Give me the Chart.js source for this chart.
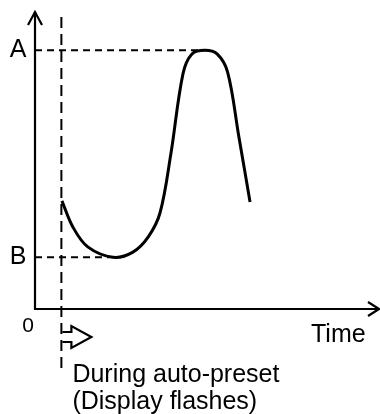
<!DOCTYPE html>
<html>
<head>
<meta charset="utf-8">
<script src="https://cdn.jsdelivr.net/npm/chart.js@4/dist/chart.umd.min.js"></script>
<style>
  html, body { margin: 0; padding: 0; background: #fff; }
  canvas { display: block; }
</style>
</head>
<body>
<canvas id="presetChart" width="380" height="414"></canvas>
<script>
// time axis (arbitrary units), auto-preset starts at t = 1
var curveTime  = [1.02, 1.44, 2.00, 2.96, 3.71, 4.30, 4.74, 5.15, 5.61, 5.95, 6.44, 6.90, 7.30, 7.72, 8.15];
var curveLevel = [2.09, 1.58, 1.20, 1.00, 1.10, 1.40, 1.86, 3.00, 4.55, 4.93, 5.00, 4.93, 4.58, 3.35, 2.07];

var levelA = 5;
var levelB = 1;
var presetStart = 1;
var peakTime = 6.44;
var lowTime = 2.96;

var levelLabels = ['A', 'B'];
var originLabel = '0';
var timeLabel = 'Time';
var noteLines = ['During auto-preset', '(Display flashes)'];

var xMax = 13;
var yMax = 5.74;

function toPoints(xs, ys){
    var pts = [];
    for (var i = 0; i < xs.length; i++) {
        pts.push({ x: xs[i], y: ys[i] });
    }
    return pts;
}

// axes with open arrowheads, letters and the hollow "preset" arrow
var sketchPlugin = {
    id: 'sketch',
    afterDraw: function(chart){
        var ctx = chart.ctx;
        var xs = chart.scales.x, ys = chart.scales.y;
        var x0 = xs.getPixelForValue(0);
        var y0 = ys.getPixelForValue(0);
        var xEnd = xs.getPixelForValue(xMax) + 1;
        var yTop = ys.getPixelForValue(yMax);

        ctx.save();
        ctx.strokeStyle = '#000';
        ctx.lineWidth = 2.2;
        ctx.lineCap = 'butt';
        ctx.lineJoin = 'miter';

        // axes
        ctx.beginPath();
        ctx.moveTo(x0, yTop);
        ctx.lineTo(x0, y0);
        ctx.lineTo(xEnd, y0);
        ctx.stroke();

        // arrowheads
        ctx.beginPath();
        ctx.moveTo(x0 - 7, yTop + 13);
        ctx.lineTo(x0, yTop);
        ctx.lineTo(x0 + 7, yTop + 13);
        ctx.moveTo(xEnd - 11, y0 - 7);
        ctx.lineTo(xEnd, y0);
        ctx.lineTo(xEnd - 11, y0 + 7);
        ctx.stroke();

        // hollow arrow below the axis, starting at the dashed line
        var px = xs.getPixelForValue(presetStart) + 1;
        var ay = y0 + 28;
        ctx.lineWidth = 2.2;
        ctx.beginPath();
        ctx.moveTo(px, ay - 5);
        ctx.lineTo(px + 9, ay - 5);
        ctx.lineTo(px + 9, ay - 11);
        ctx.lineTo(px + 29, ay);
        ctx.lineTo(px + 9, ay + 11);
        ctx.lineTo(px + 9, ay + 5);
        ctx.lineTo(px, ay + 5);
        ctx.stroke();

        // labels
        ctx.fillStyle = '#000';
        ctx.textBaseline = 'middle';
        ctx.textAlign = 'center';
        ctx.font = '25px "Liberation Sans", Arial, sans-serif';
        ctx.fillText(levelLabels[0], 18, ys.getPixelForValue(levelA));
        ctx.fillText(levelLabels[1], 18, ys.getPixelForValue(levelB));

        ctx.font = '21px "Liberation Sans", Arial, sans-serif';
        ctx.fillText(originLabel, x0 - 7, y0 + 17);

        ctx.textAlign = 'left';
        ctx.font = '25px "Liberation Sans", Arial, sans-serif';
        ctx.fillText(timeLabel, 311, y0 + 26);

        ctx.textBaseline = 'alphabetic';
        ctx.fillText(noteLines[0], px + 10, y0 + 73);
        ctx.fillText(noteLines[1], px + 10, y0 + 100);
        ctx.restore();
    }
};

var ctx = document.getElementById('presetChart').getContext('2d');
var presetChart = new Chart(ctx, {
    type: 'line',
    data: {
        datasets: [
            {
                label: 'level',
                data: toPoints(curveTime, curveLevel),
                borderColor: '#000',
                borderWidth: 3,
                tension: 0.35,
                pointRadius: 0,
                fill: false
            },
            {
                label: 'preset start',
                data: [{ x: presetStart, y: -1.14 }, { x: presetStart, y: yMax }],
                borderColor: '#000',
                borderWidth: 2,
                borderDash: [11, 6],
                pointRadius: 0,
                clip: false
            },
            {
                label: 'A',
                data: [{ x: 0, y: levelA }, { x: peakTime, y: levelA }],
                borderColor: '#000',
                borderWidth: 2,
                borderDash: [7, 5],
                pointRadius: 0
            },
            {
                label: 'B',
                data: [{ x: 0, y: levelB }, { x: lowTime, y: levelB }],
                borderColor: '#000',
                borderWidth: 2,
                borderDash: [7, 5],
                pointRadius: 0
            }
        ]
    },
    options: {
        responsive: false,
        animation: false,
        layout: { padding: { left: 35, top: 12, right: 2, bottom: 105 } },
        plugins: {
            legend: { display: false },
            tooltip: { enabled: false }
        },
        scales: {
            x: { type: 'linear', min: 0, max: xMax, display: false },
            y: { type: 'linear', min: 0, max: yMax, display: false }
        }
    },
    plugins: [sketchPlugin]
});
</script>
</body>
</html>
